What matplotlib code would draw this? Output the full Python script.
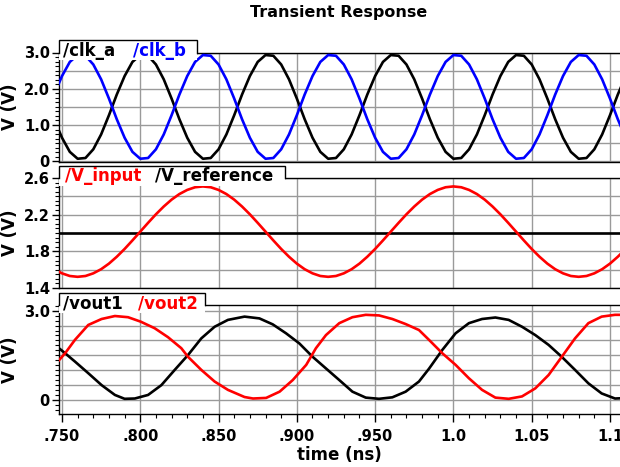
import numpy as np
import matplotlib
matplotlib.use("Agg")
import matplotlib.pyplot as plt
from matplotlib.patches import Rectangle
from matplotlib.ticker import MultipleLocator

plt.rcParams['font.family'] = ['DejaVu Sans']
plt.rcParams['font.weight'] = 'bold'

# sample times for the clock and input traces (ns)
clk_t = np.round(np.arange(0.745, 1.1101, 0.005), 3)

clk_a = [1.16, 0.65, 0.26, 0.07, 0.09, 0.33, 0.74, 1.27, 1.84, 2.35, 2.74, 2.93, 2.91, 2.67, 2.26, 1.73,
         1.16, 0.65, 0.26, 0.07, 0.09, 0.33, 0.74, 1.27, 1.84, 2.35, 2.74, 2.93, 2.91, 2.67, 2.26, 1.73,
         1.16, 0.65, 0.26, 0.07, 0.09, 0.33, 0.74, 1.27, 1.84, 2.35, 2.74, 2.93, 2.91, 2.67, 2.26, 1.73,
         1.16, 0.65, 0.26, 0.07, 0.09, 0.33, 0.74, 1.27, 1.84, 2.35, 2.74, 2.93, 2.91, 2.67, 2.26, 1.73,
         1.16, 0.65, 0.26, 0.07, 0.09, 0.33, 0.74, 1.27, 1.84, 2.35]
clk_b = [1.84, 2.35, 2.74, 2.93, 2.91, 2.67, 2.26, 1.73, 1.16, 0.65, 0.26, 0.07, 0.09, 0.33, 0.74, 1.27,
         1.84, 2.35, 2.74, 2.93, 2.91, 2.67, 2.26, 1.73, 1.16, 0.65, 0.26, 0.07, 0.09, 0.33, 0.74, 1.27,
         1.84, 2.35, 2.74, 2.93, 2.91, 2.67, 2.26, 1.73, 1.16, 0.65, 0.26, 0.07, 0.09, 0.33, 0.74, 1.27,
         1.84, 2.35, 2.74, 2.93, 2.91, 2.67, 2.26, 1.73, 1.16, 0.65, 0.26, 0.07, 0.09, 0.33, 0.74, 1.27,
         1.84, 2.35, 2.74, 2.93, 2.91, 2.67, 2.26, 1.73, 1.16, 0.65]

v_input = [1.605, 1.560, 1.531, 1.522, 1.531, 1.560, 1.605, 1.666, 1.741, 1.826, 1.919, 2.015,
           2.111, 2.204, 2.289, 2.364, 2.425, 2.470, 2.499, 2.508, 2.499, 2.470, 2.425, 2.364,
           2.289, 2.204, 2.111, 2.015, 1.919, 1.826, 1.741, 1.666, 1.605, 1.560, 1.531,
           1.522, 1.531, 1.560, 1.605, 1.666, 1.741, 1.826, 1.919, 2.015, 2.111, 2.204, 2.289,
           2.364, 2.425, 2.470, 2.499, 2.508, 2.499, 2.470, 2.425, 2.364, 2.289, 2.204, 2.111,
           2.015, 1.919, 1.826, 1.741, 1.666, 1.605, 1.560, 1.531, 1.522, 1.531, 1.560, 1.605,
           1.666, 1.741, 1.826]
v_reference = 2.0

vout1_t = [0.7455, 0.752, 0.7583, 0.7668, 0.7753, 0.7838, 0.790, 0.7965, 0.805, 0.8135, 0.822,
           0.8305, 0.839, 0.8475, 0.856, 0.8666, 0.8761, 0.8846, 0.8931, 0.9016, 0.9101, 0.9186,
           0.9271, 0.9355, 0.944, 0.9525, 0.961, 0.9695, 0.978, 0.9844, 0.9929, 1.0014, 1.0099,
           1.0183, 1.0268, 1.0353, 1.0438, 1.0523, 1.0608, 1.0692, 1.0777, 1.0862, 1.0947, 1.1032, 1.108]
vout1 = [1.85, 1.57, 1.29, 0.90, 0.50, 0.17, 0.04, 0.05, 0.17, 0.50, 1.01,
         1.51, 2.07, 2.46, 2.69, 2.80, 2.74, 2.54, 2.24, 1.90, 1.45, 1.06,
         0.67, 0.28, 0.08, 0.04, 0.09, 0.28, 0.62, 1.05, 1.68, 2.24, 2.58,
         2.72, 2.77, 2.69, 2.46, 2.18, 1.85, 1.45, 1.01, 0.56, 0.22, 0.05, 0.06]

vout2_t = [0.7455, 0.752, 0.7583, 0.7668, 0.7753, 0.7838, 0.7922, 0.8003, 0.8092, 0.8177, 0.8262,
           0.8305, 0.839, 0.8475, 0.856, 0.8666, 0.872, 0.8804, 0.889, 0.8974, 0.906, 0.9122,
           0.9186, 0.9271, 0.9355, 0.944, 0.9525, 0.961, 0.9695, 0.978, 0.9844, 0.9929, 1.0014,
           1.0099, 1.0183, 1.0268, 1.0353, 1.0438, 1.0523, 1.0608, 1.0692, 1.0777, 1.0862, 1.0947,
           1.1032, 1.108]
vout2 = [1.18, 1.57, 2.02, 2.52, 2.72, 2.82, 2.78, 2.63, 2.41, 2.11, 1.74,
         1.45, 1.01, 0.62, 0.34, 0.10, 0.05, 0.07, 0.28, 0.67, 1.18, 1.74,
         2.18, 2.58, 2.78, 2.86, 2.84, 2.72, 2.55, 2.35, 2.02, 1.57, 1.18,
         0.73, 0.34, 0.08, 0.04, 0.12, 0.39, 0.84, 1.45, 2.07, 2.58, 2.80,
         2.86, 2.86]

x_ticks = [0.75, 0.80, 0.85, 0.90, 0.95, 1.00, 1.05, 1.10]
x_labels = ['.750', '.800', '.850', '.900', '.950', '1.0', '1.05', '1.1']

BLUE = '#0000ff'
RED = '#ff0000'
GRID = '#9a9a9a'

fig = plt.figure(figsize=(6.2, 4.67), dpi=100)
L = 59 / 620
W = 1 - L
ax1 = fig.add_axes([L, 1 - 162 / 467, W, 109.5 / 467])
ax2 = fig.add_axes([L, 1 - 288 / 467, W, 110 / 467])
ax3 = fig.add_axes([L, 1 - 414 / 467, W, 109 / 467])


def setup(ax, ylim, grid_step, yticks, ylabels, minor):
    ax.set_xlim(0.7481, 1.1064)
    ax.set_ylim(*ylim)
    for x in x_ticks:
        ax.axvline(x, color=GRID, lw=1.0, zorder=1)
    y = np.ceil(ylim[0] / grid_step) * grid_step
    while y <= ylim[1] + 1e-9:
        ax.axhline(y, color=GRID, lw=1.0, zorder=1)
        y += grid_step
    ax.set_yticks(yticks)
    ax.set_yticklabels(ylabels, fontsize=10.5, fontweight='bold')
    ax.yaxis.set_minor_locator(MultipleLocator(minor))
    ax.tick_params(axis='y', which='major', length=5, width=1, pad=1.5)
    ax.tick_params(axis='y', which='minor', length=3, width=0.8)
    ax.spines['right'].set_visible(False)
    for s in ['left', 'top', 'bottom']:
        ax.spines[s].set_linewidth(1.0)
    ax.set_ylabel('V (V)', fontsize=12, fontweight='bold')
    ax.yaxis.set_label_coords(-0.072, 0.5)


def tab(ax, right, entries):
    top = 1.11
    ax.add_patch(Rectangle((0, 0.93), right, top - 0.93, transform=ax.transAxes,
                           facecolor='white', edgecolor='none', clip_on=False, zorder=5))
    ax.plot([0, 0, right, right], [1, top, top, 1], transform=ax.transAxes,
            color='black', lw=1.0, clip_on=False, zorder=6, solid_joinstyle='miter')
    for x, label, color in entries:
        ax.text(x, 0.972, label, transform=ax.transAxes, color=color, fontsize=12,
                fontweight='bold', va='baseline', ha='left', zorder=7)


setup(ax1, (-0.02, 3.0), 0.5, [0, 1, 2, 3], ['0', '1.0', '2.0', '3.0'], 0.125)
ax1.plot(clk_t, clk_a, color='black', lw=1.9, zorder=3)
ax1.plot(clk_t, clk_b, color=BLUE, lw=1.9, zorder=3)
tab(ax1, 0.246, [(0.007, '/clk_a', 'black'), (0.132, '/clk_b', BLUE)])

setup(ax2, (1.4, 2.6), 0.2, [1.4, 1.8, 2.2, 2.6], ['1.4', '1.8', '2.2', '2.6'], 0.05)
ax2.axhline(v_reference, color='black', lw=1.9, zorder=3)
ax2.plot(clk_t, v_input, color=RED, lw=1.9, zorder=3)
tab(ax2, 0.403, [(0.011, '/V_input', RED), (0.171, '/V_reference', 'black')])

setup(ax3, (-0.47, 3.19), 0.5, [0, 3.0], ['0', '3.0'], 0.5 / 3)
ax3.plot(vout1_t, vout1, color='black', lw=1.9, zorder=3)
ax3.plot(vout2_t, vout2, color=RED, lw=1.9, zorder=3)
tab(ax3, 0.26, [(0.007, '/vout1', 'black'), (0.141, '/vout2', RED)])

for ax in (ax1, ax2):
    ax.tick_params(axis='x', which='both', bottom=False, labelbottom=False)

ax3.set_xticks(x_ticks)
ax3.set_xticklabels(x_labels, fontsize=10.5, fontweight='bold')
ax3.xaxis.set_minor_locator(MultipleLocator(0.01))
ax3.tick_params(axis='x', which='major', length=6, width=1, pad=5)
ax3.tick_params(axis='x', which='minor', length=3, width=0.8)
ax3.set_xlabel('time (ns)', fontsize=12, fontweight='bold', labelpad=1)

fig.text(339 / 620, 1 - 12 / 467, 'Transient Response', ha='center', va='center',
         fontsize=11.5, fontweight='bold')

fig.savefig('out.png', dpi=100)
